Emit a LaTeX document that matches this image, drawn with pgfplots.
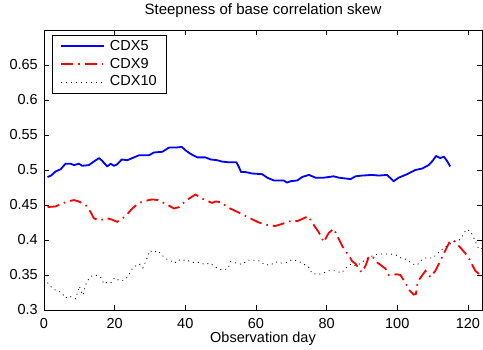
\documentclass[border=0pt]{standalone}
\usepackage{fontspec}
\setmainfont{Liberation Sans}
\usepackage{pgfplots}
\pgfplotsset{compat=1.18}
\begin{document}
\fontsize{14.5}{17}\selectfont
\begin{tikzpicture}
\begin{axis}[
  scale only axis,
  width=438pt, height=280pt,
  xmin=0, xmax=124,
  ymin=0.3, ymax=0.7,
  xtick={0,20,...,120},
  ytick={0.3,0.35,...,0.66},
  yticklabels={0.3,0.35,0.4,0.45,0.5,0.55,0.6,0.65},
  /pgf/number format/assume math mode=true,
  tick align=inside,
  major tick length=5pt,
  axis line style={line width=0.8pt},
  every tick/.style={black, line width=0.6pt},
  xticklabel style={anchor=base, inner sep=0pt, yshift=-18.5pt},
  yticklabel style={anchor=east, inner sep=0pt, xshift=-6pt},
  title={Steepness of base correlation skew},
  title style={at={(0.5,1)}, anchor=base, yshift=9.5pt, inner sep=0pt, font=\fontsize{15}{17}\selectfont},
  xlabel={Observation day},
  xlabel style={at={(axis description cs:0.5,0)}, anchor=base, yshift=-33pt, inner sep=0pt},
  legend style={at={(0.0176,0.983)}, anchor=north west, draw=black, line width=0.8pt,
    inner xsep=8pt, inner ysep=3pt, row sep=1.5pt, font=\fontsize{14.5}{17}\selectfont,
    /tikz/every odd column/.append style={column sep=3pt}},
  legend cell align=left,
  legend image code/.code={\draw[#1] (0pt,0pt) -- (43pt,0pt);},
]
\addplot[blue, line width=1.8pt, line join=round] table {
1 0.490
2 0.492
3.3 0.498
4.7 0.501
6.1 0.509
7.5 0.509
8.5 0.507
9.9 0.509
10.8 0.506
12.7 0.507
14.1 0.512
15.6 0.517
16.5 0.513
17.9 0.505
18.9 0.509
19.8 0.506
20.7 0.508
22.0 0.515
23.6 0.514
25.0 0.517
26.9 0.521
29.7 0.521
31.1 0.525
33.5 0.526
35.4 0.532
37.3 0.532
39.0 0.533
40.1 0.528
41.5 0.523
43.4 0.518
45.7 0.518
47.2 0.515
49.0 0.514
50.4 0.512
52.3 0.511
54.5 0.511
55.2 0.504
55.8 0.497
57.1 0.497
58.9 0.495
61.8 0.494
63.2 0.489
65.1 0.485
67.9 0.485
68.8 0.482
69.8 0.484
71.7 0.485
73.1 0.490
75.0 0.493
76.9 0.489
79.2 0.489
80.6 0.490
82.0 0.491
83.5 0.489
86.8 0.487
88.2 0.491
90.0 0.492
92.9 0.493
94.8 0.492
97.1 0.493
99.0 0.484
100.4 0.489
102.8 0.494
105.1 0.500
107.0 0.502
108.9 0.507
110.0 0.513
111.0 0.520
112.2 0.517
113.2 0.519
114.1 0.513
115.0 0.505
};
\addlegendentry{CDX5}
\addplot[red, line width=1.8pt, dash pattern=on 12pt off 5pt on 1.5pt off 5pt] table {
1 0.447
3.3 0.448
4.7 0.451
6.6 0.455
8.5 0.457
9.9 0.455
11.8 0.450
13.2 0.440
14.1 0.431
15.6 0.428
17.9 0.431
19.3 0.429
20.7 0.426
22.1 0.430
23.6 0.437
25.0 0.445
26.9 0.453
28.8 0.456
30.6 0.458
32.3 0.457
33.5 0.454
35.4 0.449
36.8 0.445
38.2 0.447
40.1 0.456
42.9 0.465
44.8 0.459
47.6 0.453
48.6 0.455
50.0 0.454
52.3 0.446
55.2 0.439
58.0 0.432
60.8 0.425
63.6 0.421
65.5 0.420
67.4 0.423
69.8 0.427
71.7 0.427
73.1 0.430
74.8 0.434
75.9 0.425
77.8 0.411
79.2 0.397
80.6 0.410
82.0 0.416
83.0 0.406
84.9 0.387
86.3 0.378
87.2 0.370
88.2 0.366
89.6 0.356
90.0 0.354
91.0 0.363
91.9 0.375
92.9 0.377
94.3 0.368
96.7 0.359
97.6 0.350
99.9 0.351
100.9 0.350
102.3 0.339
103.3 0.329
104.7 0.322
105.3 0.323
105.6 0.335
106.3 0.344
108.0 0.356
109.4 0.347
110.8 0.356
112.2 0.370
113.6 0.385
115.0 0.399
116.0 0.399
117.9 0.389
119.8 0.378
120.7 0.370
122.1 0.356
123.5 0.350
124 0.349
};
\addlegendentry{CDX9}
\addplot[black, line width=0.8pt, dash pattern=on 1pt off 4pt] table {
1 0.339
2 0.333
3 0.329
4 0.327
5 0.325
6 0.317
7 0.320
8 0.318
9 0.316
10 0.334
11 0.321
12 0.339
13 0.347
14 0.350
15 0.349
16 0.347
17 0.337
18 0.340
19 0.339
20 0.346
21 0.343
22 0.342
23 0.343
24 0.350
25 0.359
26 0.363
27 0.366
28 0.360
29 0.372
30 0.385
31 0.382
32 0.385
33 0.381
34 0.375
35 0.372
36 0.370
37 0.367
38 0.372
39 0.370
40 0.372
42 0.368
44 0.368
45.5 0.365
47 0.367
48.6 0.361
50.3 0.357
52.1 0.359
52.8 0.369
54.5 0.367
56.1 0.365
57.7 0.371
59.4 0.371
61.1 0.370
62.4 0.365
64.1 0.364
65.5 0.369
67 0.367
68.7 0.368
70.2 0.372
71.9 0.370
73.4 0.366
75 0.361
75.9 0.352
77.8 0.351
79.2 0.353
80.6 0.356
82.5 0.356
84.2 0.353
85.5 0.360
87 0.366
88.3 0.363
89.8 0.367
91.1 0.373
92.9 0.377
94.6 0.380
96.2 0.380
98.1 0.380
99.5 0.379
101.2 0.374
102.8 0.372
104.2 0.366
105.6 0.364
107 0.372
108.4 0.375
110 0.374
111.7 0.382
113.2 0.389
114.8 0.394
116 0.397
117.4 0.399
118.4 0.405
119.5 0.415
120.7 0.413
121.6 0.404
122.1 0.398
123.1 0.387
124 0.388
};
\addlegendentry{CDX10}
\end{axis}
\path (current axis.south west) ++(-44pt,-40pt) coordinate (bbA);
\path (current axis.north east) ++(1pt,30pt) coordinate (bbB);
\useasboundingbox (bbA) rectangle (bbB);
\end{tikzpicture}
\end{document}
